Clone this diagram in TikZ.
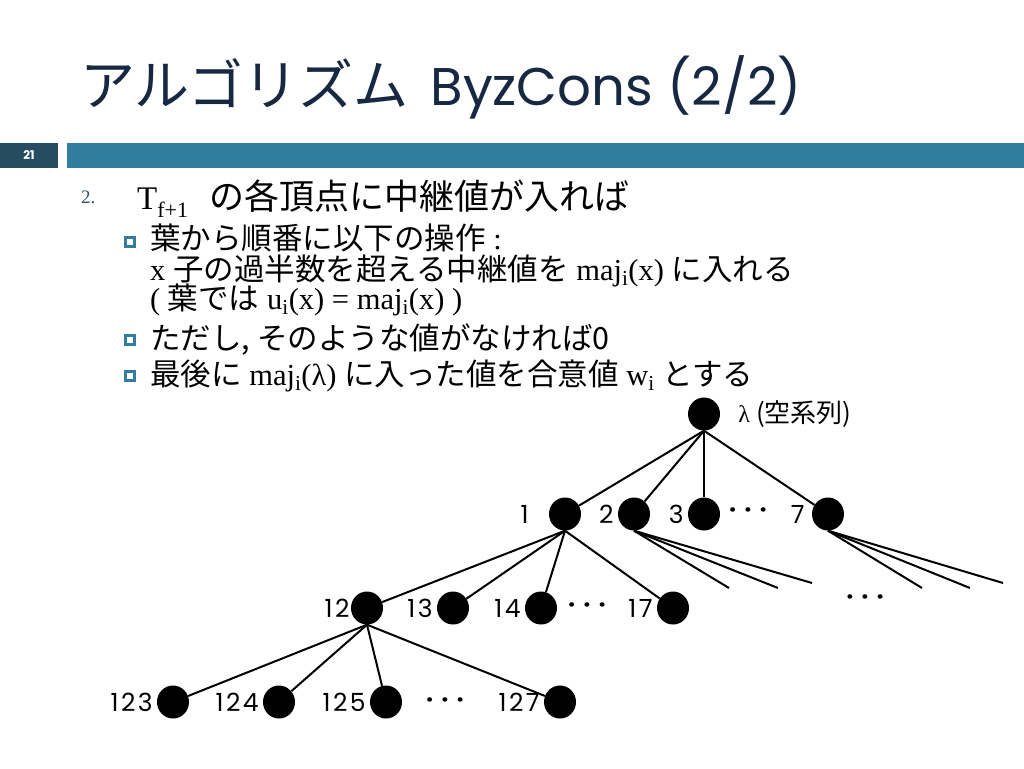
\documentclass[tikz,border=0pt]{standalone}
\usepackage{fontspec}
\setmainfont{Liberation Serif}
\newfontfamily\jpfont{Noto Sans CJK JP}
\newfontfamily\geofont{Poppins}
\newfontfamily\numfont[LetterSpace=10]{Poppins}
\usetikzlibrary{positioning,shapes.geometric}
\definecolor{titleblue}{rgb}{0.09,0.16,0.26}
\definecolor{barteal}{RGB}{50,124,160}
\definecolor{bardark}{RGB}{37,76,96}
\definecolor{numgray}{RGB}{60,80,96}
\newcommand{\ja}[1]{{\jpfont #1}}
\tikzset{
	vertex/.style={
		ellipse,
		fill=black,
		minimum width=32pt,
		minimum height=33pt,
		inner sep=0pt},
	edge/.style={draw, line width=2pt},
	lbl/.style={font=\numfont\fontsize{25}{28}\selectfont, inner sep=0pt, label distance=4pt},
	dotrow/.style={font=\geofont\bfseries\fontsize{24}{26}\selectfont, inner sep=0pt},
	bulletbox/.style={draw=barteal, line width=3.2pt, minimum size=9.5pt, inner sep=0pt},
	subline/.style={anchor=base west, inner sep=0pt, font=\fontsize{30.5}{34}\selectfont},
}

\begin{document}
\begin{tikzpicture}[x=1pt, y=-1pt]
\useasboundingbox (0,0) rectangle (1024,768);
\fill[white] (0,0) rectangle (1024,768);
% title and bar
\node[anchor=base west, inner sep=0pt, text=titleblue] (title) at (80,105)
	{\jpfont\fontsize{55}{60}\selectfont アルゴリズム\hspace{22pt}\geofont\fontsize{53}{60}\selectfont ByzCons (2/2)};
\node[fill=bardark, text=white, minimum width=58pt, minimum height=25pt, inner sep=0pt,
	font=\geofont\bfseries\fontsize{12}{14}\selectfont] (pagebox) at (29,155.5) {21};
\fill[barteal] (67,143) rectangle (1024,168);
% text
\node[anchor=base west, inner sep=0pt, text=numgray, font=\fontsize{19}{21}\selectfont] (num) at (81,203) {2.};
\node[anchor=base west, inner sep=0pt, font=\fontsize{33}{36}\selectfont] (head) at (137,209)
	{T{\fontsize{22}{24}\selectfont\raisebox{-8pt}{f+1}}\hspace{21pt}\ja{\fontsize{35}{38}\selectfont の各頂点に中継値が入れば}};
\node[bulletbox] (b1) at (130,242) {};
\node[subline] (l1) at (150,249) {\ja{葉から順番に以下の操作} :};
\node[subline] (l2) at (150,280) {x \ja{子の過半数を超える中継値を} maj\textsubscript{i}(x) \ja{に入れる}};
\node[subline] (l3) at (150,309) {( \ja{葉では} u\textsubscript{i}(x) = maj\textsubscript{i}(x) )};
\node[bulletbox] (b2) at (130,340) {};
\node[subline] (l4) at (150,349) {\ja{ただし, そのような値がなければ0}};
\node[bulletbox] (b3) at (130,376) {};
\node[subline] (l5) at (150,385) {\ja{最後に} maj\textsubscript{i}(λ) \ja{に入った値を合意値} w\textsubscript{i} \ja{とする}};
% tree
\node[vertex, label={[inner sep=0pt, label distance=18pt]right:{\fontsize{24}{26}\selectfont λ \ja{\fontsize{26}{28}\selectfont (空系列)}}}] (root) at (704,414) {};
\node[vertex, label={[lbl, label distance=20pt]left:1}] (n1) at (565,514) {};
\node[vertex, label={[lbl]left:2}] (n2) at (634,514) {};
\node[vertex, label={[lbl]left:3}] (n3) at (704,514) {};
\node[vertex, label={[lbl, label distance=7pt]left:7}] (n7) at (828,514) {};
\node[dotrow] (dots1) at (748,513) {·\kern8pt·\kern8pt·};
\node[vertex, label={[lbl, label distance=1pt]left:12}] (n12) at (367,608) {};
\node[vertex, label={[lbl]left:13}] (n13) at (453,608) {};
\node[vertex, label={[lbl]left:14}] (n14) at (541,608) {};
\node[vertex, label={[lbl]left:17}] (n17) at (673,608) {};
\node[dotrow] (dots2) at (587,608) {·\kern8pt·\kern8pt·};
\node[dotrow] (dots3) at (865,600) {·\kern8pt·\kern8pt·};
\node[vertex, label={[lbl]left:123}] (n123) at (173,702) {};
\node[vertex, label={[lbl]left:124}] (n124) at (279,702) {};
\node[vertex, label={[lbl]left:125}] (n125) at (386,702) {};
\node[vertex, label={[lbl]left:127}] (n127) at (560,702) {};
\node[dotrow] (dots4) at (445,703) {·\kern8pt·\kern8pt·};
% loose ends
\coordinate (e2a) at (729,588);
\coordinate (e2b) at (778,588);
\coordinate (e2c) at (812,583);
\coordinate (e7a) at (922,588);
\coordinate (e7b) at (970,588);
\coordinate (e7c) at (1003,583);
\foreach \c in {n1,n2,n3,n7} \draw[edge] (root.south) -- (\c);
\foreach \c in {n12,n13,n14,n17} \draw[edge] (n1.south) -- (\c);
\foreach \c in {n123,n124,n125,n127} \draw[edge] (n12.south) -- (\c);
\foreach \c in {e2a,e2b,e2c} \draw[edge] (n2.south) -- (\c);
\foreach \c in {e7a,e7b,e7c} \draw[edge] (n7.south) -- (\c);
\end{tikzpicture}
\end{document}
